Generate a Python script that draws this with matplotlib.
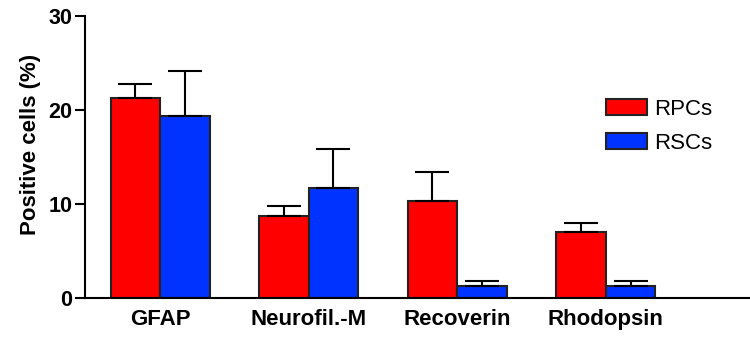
import numpy as np
import matplotlib.pyplot as plt

markers = ["GFAP", "Neurofil.-M", "Recoverin", "Rhodopsin"]
rpc_mean = [21.3, 8.7, 10.3, 7.0]
rpc_err = [1.5, 1.1, 3.1, 1.0]
rsc_mean = [19.4, 11.7, 1.3, 1.3]
rsc_err = [4.8, 4.1, 0.55, 0.55]

plt.rcParams['font.family'] = ['Liberation Sans', 'DejaVu Sans']

fig = plt.figure(figsize=(7.5, 3.41), dpi=100)
ax = fig.add_axes([85 / 750, 43 / 341, 665 / 750, 282 / 341])

x = np.arange(len(markers))
w = 1 / 3
err_kw = dict(ecolor='black', elinewidth=1.5, capsize=12, capthick=1.5)
ax.bar(x - w / 2, rpc_mean, w, yerr=[np.zeros(4), rpc_err], color='#ff0000',
       edgecolor='#222222', linewidth=1.5, label='RPCs', error_kw=err_kw, zorder=2)
ax.bar(x + w / 2, rsc_mean, w, yerr=[np.zeros(4), rsc_err], color='#0033ff',
       edgecolor='#222222', linewidth=1.5, label='RSCs', error_kw=err_kw, zorder=2)

ax.set_xlim(-0.505, 3.97)
ax.set_ylim(0, 30)
ax.set_yticks([0, 10, 20, 30])
ax.set_xticks(x)
ax.set_xticklabels(markers, fontsize=16, fontweight='bold')
ax.tick_params(axis='x', length=0, pad=8)
ax.tick_params(axis='y', length=7, width=1.5, labelsize=15.5, pad=2)
for lab in ax.get_yticklabels():
    lab.set_fontweight('bold')
ax.set_ylabel('Positive cells (%)', fontsize=16, fontweight='bold')
ax.yaxis.set_label_coords(-0.066, 0.543)

for s in ['top', 'right']:
    ax.spines[s].set_visible(False)
for s in ['left', 'bottom']:
    ax.spines[s].set_linewidth(1.5)

ax.legend(loc='upper left', bbox_to_anchor=(0.783, 0.706), frameon=False,
          fontsize=16, handlelength=1.85, handleheight=0.68, handletextpad=0.32,
          labelspacing=0.58, borderaxespad=0, borderpad=0)

fig.savefig('out.png', dpi=100)
